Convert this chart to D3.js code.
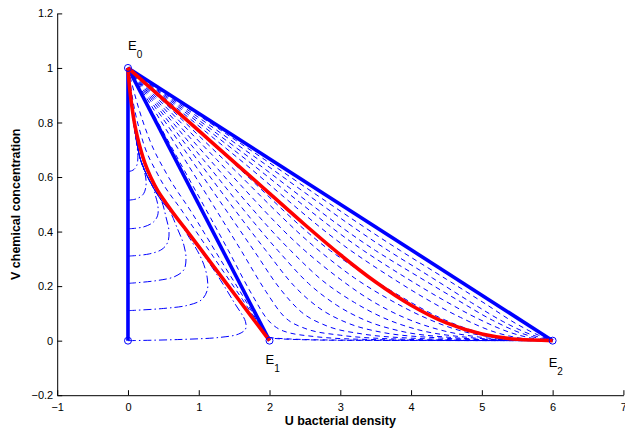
<!DOCTYPE html>
<html>
<head>
<meta charset="utf-8">
<script src="https://cdn.jsdelivr.net/npm/d3@7"></script>
<style>
body { margin: 0; background: #fff; }
text { font-family: "Liberation Sans", Arial, Helvetica, sans-serif; }
</style>
</head>
<body>
<svg id="chart" width="625" height="433"></svg>
<script>
// ---- data (u = bacterial density, v = chemical concentration) ----
const xTicks = [-1, 0, 1, 2, 3, 4, 5, 6, 7];
const xTickLabels = ['\u22121', '0', '1', '2', '3', '4', '5', '6', '7'];
const yTicks = [-0.2, 0, 0.2, 0.4, 0.6, 0.8, 1, 1.2];
const yTickLabels = ['\u22120.2', '0', '0.2', '0.4', '0.6', '0.8', '1', '1.2'];

const equilibria = [
    { name: 'E', sub: '0', u: 0, v: 1 },
    { name: 'E', sub: '1', u: 2, v: 0 },
    { name: 'E', sub: '2', u: 6, v: 0 }
];
const originPoint = [0, 0];

// thick blue straight lines
const blueLines = [
    [[0, 0], [0, 1]],
    [[0, 1], [2, 0]],
    [[0, 1], [6, 0]]
];

// thick red heteroclinic curves
const redToE1 = [[0, 1], [0.015, 0.95], [0.035, 0.9], [0.06, 0.85], [0.09, 0.8], [0.13, 0.75],
    [0.18, 0.7], [0.24, 0.65], [0.32, 0.6], [0.42, 0.55], [0.55, 0.5], [0.69, 0.45], [0.84, 0.4],
    [1.13, 0.3], [1.42, 0.2], [1.71, 0.1], [2, 0]];
const redToE2 = [[0, 1], [0.5, 0.885], [1.0, 0.77], [1.5, 0.655], [2.0, 0.54], [2.5, 0.425],
    [3.0, 0.315], [3.5, 0.215], [4.0, 0.13], [4.5, 0.065], [5.0, 0.024], [5.5, 0.005], [6, 0]];

// thin dashed trajectories from E0 to E2
const dashedCurves = [
    [[0, 1], [0.12, 0.88], [0.3, 0.74], [0.55, 0.61], [0.9, 0.47], [1.3, 0.3], [1.7, 0.13], [1.9, 0.04], [2.0, 0.012], [2.3, 0.006], [3, 0.002], [4.5, 0.0005], [6, 0]],
    [[0, 1], [0.07, 0.88], [0.2, 0.74], [0.42, 0.61], [0.78, 0.47], [1.2, 0.31], [1.62, 0.15], [1.88, 0.05], [2.0, 0.01], [2.4, 0.004], [3.2, 0.001], [6, 0]],
    [[0, 1], [0.71, 0.665], [1.42, 0.33], [1.75, 0.17], [1.98, 0.075], [2.2, 0.035], [2.6, 0.016], [3.3, 0.005], [4.5, 0.001], [6, 0]],
    [[0, 1], [0.8, 0.665], [1.6, 0.33], [1.95, 0.18], [2.2, 0.09], [2.5, 0.045], [3.0, 0.02], [3.8, 0.006], [5, 0.001], [6, 0]],
    [[0, 1], [0.89, 0.665], [1.78, 0.33], [2.15, 0.19], [2.45, 0.105], [2.8, 0.055], [3.3, 0.025], [4.1, 0.008], [5.2, 0.001], [6, 0]],
    [[0, 1], [0.975, 0.665], [1.95, 0.33], [2.35, 0.2], [2.7, 0.12], [3.1, 0.065], [3.6, 0.03], [4.4, 0.01], [5.3, 0.002], [6, 0]],
    [[0, 1], [1.06, 0.665], [2.12, 0.33], [2.55, 0.21], [2.95, 0.13], [3.35, 0.075], [3.85, 0.035], [4.6, 0.011], [5.4, 0.002], [6, 0]],
    [[0, 1], [1.15, 0.665], [2.3, 0.33], [2.75, 0.22], [3.2, 0.14], [3.6, 0.085], [4.1, 0.04], [4.8, 0.012], [5.5, 0.002], [6, 0]],
    [[0, 1], [1.25, 0.665], [2.5, 0.33], [3.0, 0.225], [3.45, 0.145], [3.9, 0.085], [4.4, 0.04], [5.0, 0.012], [5.6, 0.002], [6, 0]],
    [[0, 1], [1.35, 0.665], [2.7, 0.33], [3.2, 0.23], [3.7, 0.15], [4.15, 0.09], [4.65, 0.04], [5.2, 0.011], [5.7, 0.002], [6, 0]],
    [[0, 1], [1.43, 0.665], [2.86, 0.33], [3.4, 0.235], [3.9, 0.155], [4.4, 0.085], [4.9, 0.035], [5.4, 0.008], [6, 0]],
    [[0, 1], [1.575, 0.665], [3.15, 0.33], [3.7, 0.235], [4.2, 0.155], [4.7, 0.085], [5.2, 0.03], [5.6, 0.007], [6, 0]],
    [[0, 1], [1.665, 0.665], [3.33, 0.33], [3.9, 0.235], [4.45, 0.15], [4.95, 0.08], [5.4, 0.03], [5.75, 0.007], [6, 0]],
    [[0, 1], [1.75, 0.665], [3.5, 0.33], [4.1, 0.235], [4.65, 0.15], [5.15, 0.075], [5.55, 0.028], [5.85, 0.006], [6, 0]],
    [[0, 1], [1.84, 0.665], [3.68, 0.33], [4.3, 0.23], [4.85, 0.14], [5.3, 0.07], [5.7, 0.022], [6, 0]],
    [[0, 1], [1.925, 0.665], [3.85, 0.33], [4.5, 0.225], [5.05, 0.135], [5.5, 0.06], [5.8, 0.02], [6, 0]]
];

// thin dash-dot trajectories leaving the v axis and bending up into E0
const dashDotTail = [[1.66, 0.07], [1.5, 0.14], [1.3, 0.225], [1.08, 0.31], [0.9, 0.375], [0.74, 0.43],
    [0.58, 0.48], [0.47, 0.515], [0.36, 0.56], [0.26, 0.61], [0.17, 0.67], [0.11, 0.75], [0.065, 0.83],
    [0.03, 0.9], [0.008, 0.96], [0, 1]];
const dashDotHeads = [
    { join: 0, points: [[0, 0], [0.7, 0.004], [1.3, 0.012], [1.56, 0.024], [1.66, 0.042]] },
    { join: 5, points: [[0, 0.11], [0.5, 0.118], [0.85, 0.13], [1.04, 0.15], [1.12, 0.185], [1.12, 0.23], [1.07, 0.28], [0.98, 0.33], [0.86, 0.38]] },
    { join: 6, points: [[0, 0.21], [0.4, 0.22], [0.66, 0.235], [0.79, 0.26], [0.82, 0.3], [0.79, 0.35], [0.7, 0.41]] },
    { join: 7, points: [[0, 0.31], [0.3, 0.318], [0.48, 0.335], [0.56, 0.36], [0.58, 0.4], [0.54, 0.45]] },
    { join: 8, points: [[0, 0.41], [0.22, 0.417], [0.36, 0.435], [0.42, 0.46], [0.42, 0.5], [0.39, 0.53]] },
    { join: 10, points: [[0, 0.515], [0.12, 0.52], [0.21, 0.535], [0.25, 0.56], [0.25, 0.6]] },
    { join: 11, points: [[0, 0.62], [0.07, 0.625], [0.12, 0.64], [0.14, 0.67]] }
];

// ---- drawing ----
const svg = d3.select('#chart');
const x = d3.scaleLinear().domain([-1, 7]).range([57.2, 623.4]);
const y = d3.scaleLinear().domain([-0.2, 1.2]).range([395.2, 13.4]);

const lineX = d3.line().x(d => x(d[0])).y(d => y(d[1])).curve(d3.curveMonotoneX);
const lineFree = d3.line().x(d => x(d[0])).y(d => y(d[1])).curve(d3.curveCatmullRom.alpha(0.5));
const lineStraight = d3.line().x(d => x(d[0])).y(d => y(d[1]));

const plot = svg.append('g');

plot.selectAll('path.dashed')
    .data(dashedCurves)
    .enter()
    .append('path')
    .attr('class', 'dashed')
    .attr('d', lineX)
    .attr('fill', 'none')
    .attr('stroke', '#0000ff')
    .attr('stroke-width', 1)
    .attr('stroke-dasharray', '5,4');

plot.selectAll('path.dashdot')
    .data(dashDotHeads.map(h => h.points.concat(dashDotTail.slice(h.join))))
    .enter()
    .append('path')
    .attr('class', 'dashdot')
    .attr('d', lineFree)
    .attr('fill', 'none')
    .attr('stroke', '#0000ff')
    .attr('stroke-width', 1)
    .attr('stroke-dasharray', '8,3,1.5,3');

plot.selectAll('path.blue')
    .data(blueLines)
    .enter()
    .append('path')
    .attr('class', 'blue')
    .attr('d', lineStraight)
    .attr('fill', 'none')
    .attr('stroke', '#0000ff')
    .attr('stroke-width', 3.6);

plot.append('path')
    .datum(redToE1)
    .attr('d', lineFree)
    .attr('fill', 'none')
    .attr('stroke', '#ff0000')
    .attr('stroke-width', 3.6);

plot.append('path')
    .datum(redToE2)
    .attr('d', lineX)
    .attr('fill', 'none')
    .attr('stroke', '#ff0000')
    .attr('stroke-width', 3.6);

plot.selectAll('circle')
    .data(equilibria.map(e => [e.u, e.v]).concat([originPoint]))
    .enter()
    .append('circle')
    .attr('cx', d => x(d[0]))
    .attr('cy', d => y(d[1]))
    .attr('r', 3.5)
    .attr('fill', 'none')
    .attr('stroke', '#0000ff')
    .attr('stroke-width', 1);

// equilibrium labels with subscripts
const labelOffset = { '0': [0, -18], '1': [-4, 23.5], '2': [-4, 26.5] };
equilibria.forEach(e => {
    const off = labelOffset[e.sub];
    const t = svg.append('text')
        .attr('x', x(e.u) + off[0])
        .attr('y', y(e.v) + off[1])
        .attr('font-size', 13)
        .attr('fill', '#000');
    t.append('tspan').text(e.name);
    t.append('tspan').attr('dy', 8).attr('font-size', 10).text(e.sub);
});

// axes (MATLAB style: ticks inside, no box)
const xAxis = svg.append('g')
    .attr('transform', `translate(0,${y(-0.2)})`)
    .call(d3.axisBottom(x).tickValues(xTicks).tickFormat((d, i) => xTickLabels[i])
        .tickSizeInner(-5).tickSizeOuter(0).tickPadding(8.5));
const yAxis = svg.append('g')
    .attr('transform', `translate(${x(-1)},0)`)
    .call(d3.axisLeft(y).tickValues(yTicks).tickFormat((d, i) => yTickLabels[i])
        .tickSizeInner(-5).tickSizeOuter(0).tickPadding(4));

[xAxis, yAxis].forEach(g => {
    g.select('.domain').attr('stroke', '#000').attr('stroke-width', 1);
    g.selectAll('.tick line').attr('stroke', '#000');
    g.selectAll('.tick text')
        .attr('font-family', '"Liberation Sans", Arial, sans-serif')
        .attr('font-size', 11)
        .attr('fill', '#000');
});

svg.append('text')
    .attr('x', (x(-1) + x(7)) / 2)
    .attr('y', 425)
    .attr('text-anchor', 'middle')
    .attr('font-size', 12.5)
    .attr('font-weight', 'bold')
    .attr('fill', '#000')
    .text('U bacterial density');

svg.append('text')
    .attr('transform', `translate(20,${(y(-0.2) + y(1.2)) / 2}) rotate(-90)`)
    .attr('text-anchor', 'middle')
    .attr('font-size', 12.5)
    .attr('font-weight', 'bold')
    .attr('fill', '#000')
    .text('V chemical concentration');
</script>
</body>
</html>
